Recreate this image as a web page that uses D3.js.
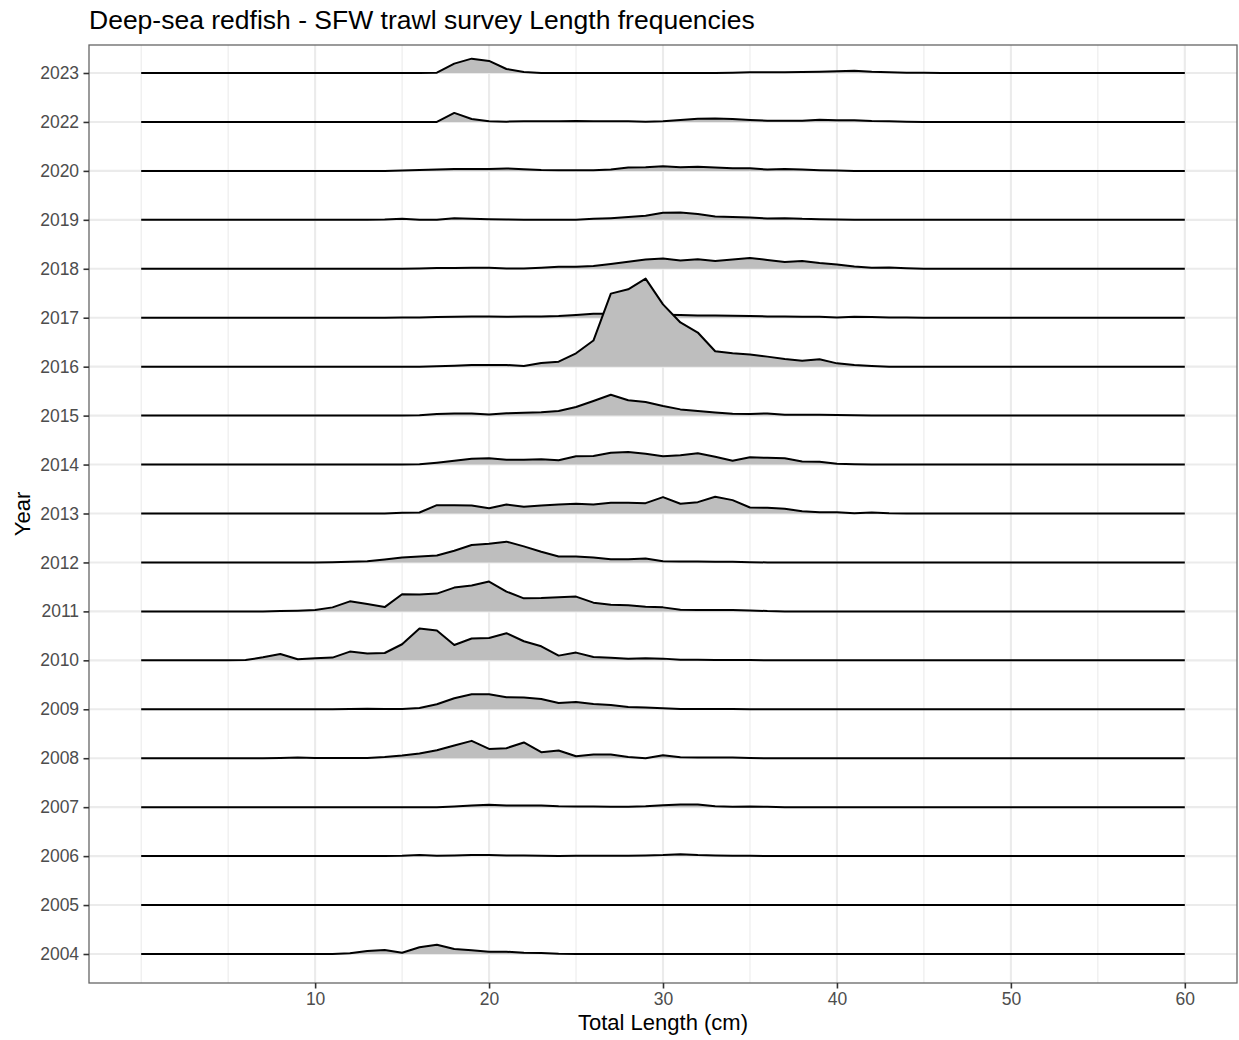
<!DOCTYPE html>
<html><head><meta charset="utf-8">
<script src="https://cdn.jsdelivr.net/npm/d3@7"></script>
<style>
body{margin:0;background:#fff}
svg{display:block}
text{font-family:"Liberation Sans",Arial,Helvetica,sans-serif}
</style>
</head><body>
<svg id="chart" width="1239" height="1040"></svg>
<script>
// ---------------- DATA ----------------
const years = ["2004","2005","2006","2007","2008","2009","2010","2011","2012","2013","2014","2015","2016","2017","2018","2019","2020","2022","2023"];
const lengthsCm = [0,1,2,3,4,5,6,7,8,9,10,11,12,13,14,15,16,17,18,19,20,21,22,23,24,25,26,27,28,29,30,31,32,33,34,35,36,37,38,39,40,41,42,43,44,45,46,47,48,49,50,51,52,53,54,55,56,57,58,59,60];
const xTicks = [10,20,30,40,50,60];
const xMinor = [0,5,15,25,35,45,55];

// relative length frequencies per year (index = length in cm, 0..60)
const f2004 = [0,0,0,0,0,0,0,0,0,0, 0,0,0.7,3,4,1.3,6.7,9.3,5,3.7, 2.3,2.3,1.3,1,0.3,0,0,0,0,0, 0,0,0,0,0,0,0,0,0,0, 0,0,0,0,0,0,0,0,0,0, 0,0,0,0,0,0,0,0,0,0, 0];
const f2005 = [0,0,0,0,0,0,0,0,0,0, 0,0,0,0,0,0,0,0,0,0, 0,0,0,0,0,0,0,0,0,0, 0,0,0,0,0,0,0,0,0,0, 0,0,0,0,0,0,0,0,0,0, 0,0,0,0,0,0,0,0,0,0, 0];
const f2006 = [0,0,0,0,0,0,0,0,0,0, 0,0,0,0,0,0.3,1,0.3,0.7,1, 1,0.7,0.7,0.3,0,0.3,0.3,0.3,0.3,0.7, 1,1.8,1,0.7,0.3,0.3,0,0,0,0, 0,0,0,0,0,0,0,0,0,0, 0,0,0,0,0,0,0,0,0,0, 0];
const f2007 = [0,0,0,0,0,0,0,0,0,0, 0,0,0,0,0,0,0,0,0.7,1.7, 2.3,1.7,1.7,1.7,1,0.7,0.7,0.5,0.5,1, 2,2.7,2.7,1,0.3,0.7,0.3,0,0,0, 0,0,0,0,0,0,0,0,0,0, 0,0,0,0,0,0,0,0,0,0, 0];
const f2008 = [0,0,0,0,0,0,0,0,0.3,0.7, 0.3,0.3,0.3,0.3,1.3,2.7,4.7,8,12.7,17.3, 9.3,10,15.7,6,7.7,2,3.7,3.8,1.2,0, 3,1,0.7,0.7,0.7,0.3,0,0,0,0, 0,0,0,0,0,0,0,0,0,0, 0,0,0,0,0,0,0,0,0,0, 0];
const f2009 = [0,0,0,0,0,0,0,0,0,0, 0,0,0.3,0.5,0.3,0.3,1.3,5,11,15, 15,12,11.7,10.3,6.3,7.3,5.3,4.3,2.3,1.7, 1,0.3,0.3,0.3,0.3,0,0,0,0,0, 0,0,0,0,0,0,0,0,0,0, 0,0,0,0,0,0,0,0,0,0, 0];
const f2010 = [0,0,0,0,0,0,0.3,3,6.3,1, 2,2.7,8.7,6.7,7.3,16,31.7,29.7,15.3,21.7, 22.3,27,19,14,4.7,7.7,3.3,2.5,1.5,2, 1.7,0.7,0.7,0.3,0.3,0.3,0,0,0,0, 0,0,0,0,0,0,0,0,0,0, 0,0,0,0,0,0,0,0,0,0, 0];
const f2011 = [0,0,0,0,0,0,0,0,0.3,0.7, 1.3,4,10,7.3,4.3,17,16.7,17.7,23.7,25.7, 29.7,19.7,13,13.3,14,14.7,8.7,6.7,6,4.7, 4,1.7,1.3,1.3,1.3,1,0.3,0,0,0, 0,0,0,0,0,0,0,0,0,0, 0,0,0,0,0,0,0,0,0,0, 0];
const f2012 = [0,0,0,0,0,0,0,0,0,0, 0,0.3,0.7,1.3,3,5,6,7,11.7,17.3, 18.7,20.7,16,10.7,6,6,5,3.2,3.2,4, 1.3,1,1,0.7,0.7,0.3,0,0,0,0, 0,0,0,0,0,0,0,0,0,0, 0,0,0,0,0,0,0,0,0,0, 0];
const f2013 = [0,0,0,0,0,0,0,0,0,0, 0,0,0,0,0,0.7,1,8.3,8.3,8, 5.3,9,6.7,8,9,9.7,9,10.8,10.7,10.3, 16.3,9.7,11.3,16.7,13.3,6,5.7,4.7,2.3,1.3, 1.3,0.3,1,0.3,0,0,0,0,0,0, 0,0,0,0,0,0,0,0,0,0, 0];
const f2014 = [0,0,0,0,0,0,0,0,0,0, 0,0,0,0,0,0,0.2,1.8,3.7,5.8, 6.2,4.7,4.7,5.3,4.2,8.2,8.5,11.8,12.5,10.7, 8.2,9.2,11.3,7.7,3.8,7.3,6.7,6.2,3,2.7, 0.8,0.3,0,0,0,0,0,0,0,0, 0,0,0,0,0,0,0,0,0,0, 0];
const f2015 = [0,0,0,0,0,0,0,0,0,0, 0,0,0,0,0,0,0.3,1.7,2.2,2, 1.2,2.3,2.8,3.3,4.6,8.6,14.6,20.8,15.3,13.5, 9.6,6.2,4.5,3,1.8,1.5,2.2,0.8,0.8,0.8, 0.6,0.3,0,0,0,0,0,0,0,0, 0,0,0,0,0,0,0,0,0,0, 0];
const f2016 = [0,0,0,0,0,0,0,0,0,0, 0,0,0,0,0,0,0,0.5,1,1.7, 1.7,1.7,0.7,3.7,5,13.3,26,72.7,77,87.7, 62,44,34,15.3,13.3,12,10,7.7,6,7.3, 3.3,1.7,0.7,0,0,0,0,0,0,0, 0,0,0,0,0,0,0,0,0,0, 0];
const f2017 = [0,0,0,0,0,0,0,0,0,0, 0,0,0,0,0,0.3,0.3,0.7,1,1.3, 1.3,1,1.3,1.3,1.7,2.7,4,4,4,3.5, 3,2.7,2.3,2.3,2,1.7,1.3,1.3,1,1, 0.3,1,0.7,0.3,0.3,0,0,0,0,0, 0,0,0,0,0,0,0,0,0,0, 0];
const f2018 = [0,0,0,0,0,0,0,0,0,0, 0,0,0,0,0,0,0.3,0.7,0.7,1, 1,0.3,0.3,1,2,2,2.7,4.8,7,9.2, 10.2,8.3,9.5,7.7,9.2,10.8,8.8,6.8,7.7,5.8, 4.3,2.2,1,1.3,0.5,0,0,0,0,0, 0,0,0,0,0,0,0,0,0,0, 0];
const f2019 = [0,0,0,0,0,0,0,0,0,0, 0,0,0,0,0.3,1,0,0,1.5,1, 0.7,0.3,0,0,0,0,1,1.7,2.7,4, 7,7.3,5.7,3.3,2.7,2.3,1.3,1.7,1,0.7, 0.3,0,0,0,0,0,0,0,0,0, 0,0,0,0,0,0,0,0,0,0, 0];
const f2020 = [0,0,0,0,0,0,0,0,0,0, 0,0,0,0,0,0.3,0.8,1.5,1.8,2, 2,2.5,1.7,1,0.7,0.7,0.7,1.3,3.3,3.7, 4.7,3.7,4,3.3,2.7,2.7,1.3,2,1.3,0.7, 0.3,0,0,0,0,0,0,0,0,0, 0,0,0,0,0,0,0,0,0,0, 0];
const f2022 = [0,0,0,0,0,0,0,0,0,0, 0,0,0,0,0,0,0,0,9,3, 0.7,0.3,0.7,0.7,0.7,1,0.7,0.7,0.7,0.3, 0.7,2,3.2,3.5,3,2,1.3,1.3,1.3,2.2, 1.7,1.7,1,0.7,0.3,0,0,0,0,0, 0,0,0,0,0,0,0,0,0,0, 0];
const f2023 = [0,0,0,0,0,0,0,0,0,0, 0,0,0,0,0,0,0,0.3,9.3,14.3, 12,4,1,0,0,0,0,0,0,0, 0,0,0,0,0.3,0.7,0.7,0.7,1,1.3, 1.7,2.3,1.2,0.7,0.3,0.3,0,0,0,0, 0,0,0,0,0,0,0,0,0,0, 0];

const freqByYear = {"2004":f2004,"2005":f2005,"2006":f2006,"2007":f2007,"2008":f2008,"2009":f2009,"2010":f2010,"2011":f2011,"2012":f2012,"2013":f2013,"2014":f2014,"2015":f2015,"2016":f2016,"2017":f2017,"2018":f2018,"2019":f2019,"2020":f2020,"2022":f2022,"2023":f2023};

const titleText = "Deep-sea redfish - SFW trawl survey Length frequencies";
const xTitle = "Total Length (cm)";
const yTitle = "Year";

// ---------------- LAYOUT ----------------
const W = 1239, H = 1040;
const panel = {left: 89, right: 1237, top: 45, bottom: 983};
const svg = d3.select("#chart");
svg.append("rect").attr("width", W).attr("height", H).attr("fill", "#fff");

const x = d3.scaleLinear().domain([-3, 63]).range([panel.left, panel.right]);
const y = d3.scalePoint().domain(years).range([panel.bottom - 29, panel.top + 28]);
const step = (y(years[0]) - y(years[years.length - 1])) / (years.length - 1);
const maxVal = d3.max(years, yr => d3.max(freqByYear[yr]));
const h = d3.scaleLinear().domain([0, maxVal]).range([0, step * 1.8]);

// grid
const grid = svg.append("g");
grid.selectAll("line.minor").data(xMinor).join("line")
  .attr("x1", d => x(d)).attr("x2", d => x(d))
  .attr("y1", panel.top).attr("y2", panel.bottom)
  .attr("stroke", "#ebebeb").attr("stroke-width", 1.07);
grid.selectAll("line.majx").data(xTicks).join("line")
  .attr("x1", d => x(d)).attr("x2", d => x(d))
  .attr("y1", panel.top).attr("y2", panel.bottom)
  .attr("stroke", "#ebebeb").attr("stroke-width", 2.1);
grid.selectAll("line.majy").data(years).join("line")
  .attr("x1", panel.left).attr("x2", panel.right)
  .attr("y1", d => y(d)).attr("y2", d => y(d))
  .attr("stroke", "#ebebeb").attr("stroke-width", 2.1);

// ridges, top year first so lower ridges overlay
const ridges = svg.append("g");
const drawOrder = years.slice().reverse();
drawOrder.forEach(yr => {
  const vals = freqByYear[yr];
  const pts = lengthsCm.map((L, i) => ({L, v: vals[i]}));
  const base = y(yr);
  const area = d3.area().x(d => x(d.L)).y0(base).y1(d => base - h(d.v));
  const line = d3.line().x(d => x(d.L)).y(d => base - h(d.v));
  const g = ridges.append("g");
  g.append("path").attr("d", area(pts)).attr("fill", "#bebebe").attr("stroke", "none");
  g.append("path").attr("d", line(pts)).attr("fill", "none")
    .attr("stroke", "#000").attr("stroke-width", 2).attr("stroke-linejoin", "round");
});

// panel border
svg.append("rect")
  .attr("x", panel.left).attr("y", panel.top)
  .attr("width", panel.right - panel.left).attr("height", panel.bottom - panel.top)
  .attr("fill", "none").attr("stroke", "#666").attr("stroke-width", 1.3);

// y axis
const yAxis = d3.axisLeft(y).tickSize(5.5).tickPadding(4.4);
const gy = svg.append("g").attr("transform", `translate(${panel.left},0)`).call(yAxis);
gy.select(".domain").remove();
gy.selectAll(".tick line").attr("stroke", "#333").attr("stroke-width", 1.6);
gy.selectAll(".tick text").attr("fill", "#4d4d4d").attr("font-size", 17.5)
  .attr("font-family", '"Liberation Sans",Arial,sans-serif');

// x axis
const xAxis = d3.axisBottom(x).tickValues(xTicks).tickSize(5.5).tickPadding(4.4);
const gx = svg.append("g").attr("transform", `translate(0,${panel.bottom})`).call(xAxis);
gx.select(".domain").remove();
gx.selectAll(".tick line").attr("stroke", "#333").attr("stroke-width", 1.6);
gx.selectAll(".tick text").attr("fill", "#4d4d4d").attr("font-size", 17.5)
  .attr("font-family", '"Liberation Sans",Arial,sans-serif');

// titles
svg.append("text").attr("x", panel.left).attr("y", 28.5)
  .attr("font-size", 26.5).attr("fill", "#000").text(titleText);
svg.append("text").attr("x", (panel.left + panel.right) / 2).attr("y", 1030)
  .attr("text-anchor", "middle").attr("font-size", 22).attr("fill", "#000").text(xTitle);
svg.append("text")
  .attr("transform", `translate(30,${(panel.top + panel.bottom) / 2}) rotate(-90)`)
  .attr("text-anchor", "middle").attr("font-size", 22).attr("fill", "#000").text(yTitle);
</script>
</body></html>
